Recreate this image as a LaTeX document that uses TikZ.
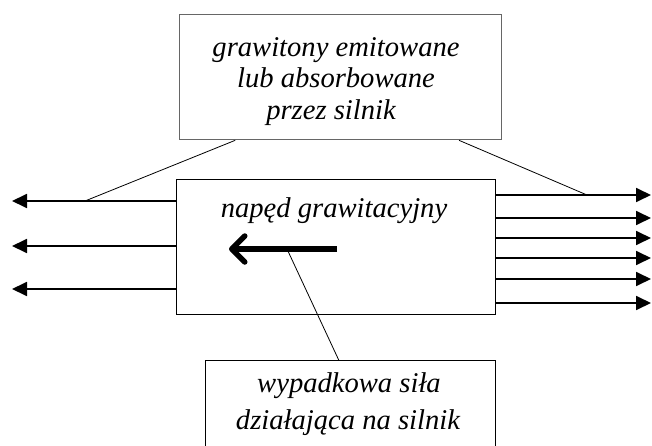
\documentclass[tikz,border=0pt]{standalone}
\usepackage{fontspec}
\setmainfont{Liberation Serif}
\usetikzlibrary{arrows.meta,calc}
\begin{document}
\begin{tikzpicture}[x=1pt,y=-1pt,
  box/.style={draw, line width=1.3pt, inner sep=0pt, anchor=north west},
  lbl/.style={font=\fontsize{28.6}{31}\selectfont\itshape, anchor=base, inner sep=0pt},
  ray/.style={line width=1.8pt, -{Triangle[length=15pt,width=14pt]}},
  thinline/.style={line width=0.8pt},
  force/.style={line width=5.5pt, -{Straight Barb[length=13pt,width=26pt,round]}}]
\clip (0,0) rectangle (652,446);
% boxes
\node[box, draw=black!60, minimum width=322pt, minimum height=125pt] (top) at (179,14) {};
\node[box, minimum width=319pt, minimum height=135pt] (eng) at (176,179) {};
\node[box, minimum width=290pt, minimum height=120pt] (res) at (205,360) {};
% texts
\node[lbl] (t1) at (336,57) {grawitony emitowane};
\node[lbl] (t2) at (336,88) {lub absorbowane};
\node[lbl] (t3) at (331,120) {przez silnik};
\node[lbl] (e1) at (334,217) {napęd grawitacyjny};
\node[lbl] (r1) at (349,392) {wypadkowa siła};
\node[lbl] (r2) at (348,429) {działająca na silnik};
% left arrows
\foreach \y [count=\i] in {201,246,289} {
  \coordinate (L\i) at (12,\y);
  \draw[ray] (eng.west |- L\i) -- (L\i);
}
% right arrows
\foreach \y [count=\i] in {195,218,238,258,279,303} {
  \coordinate (R\i) at (651,\y);
  \draw[ray] (eng.east |- R\i) -- (R\i);
}
% resultant force arrow
\coordinate (fs) at (337,249);
\coordinate (fe) at (229,249);
\draw[force] (fs) -- (fe);
% connectors
\coordinate (la) at (85,201);
\coordinate (ra) at (587,195);
\coordinate (fa) at (287,249);
\draw[thinline] ($(top.south west)!0.174!(top.south east)$) -- (la);
\draw[thinline] ($(top.south west)!0.866!(top.south east)$) -- (ra);
\draw[thinline] (fa) -- ($(res.north west)!0.459!(res.north east)$);
\end{tikzpicture}
\end{document}
